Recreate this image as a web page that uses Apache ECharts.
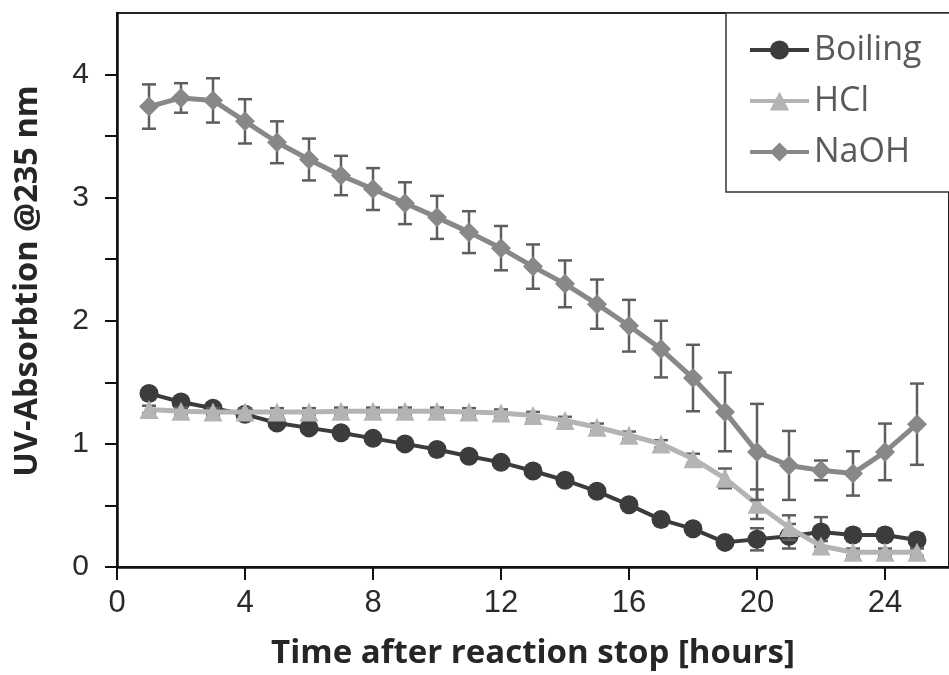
<!DOCTYPE html>
<html>
<head>
<meta charset="utf-8">
<script src="https://cdn.jsdelivr.net/npm/echarts@6/dist/echarts.min.js"></script>
<style>
html,body{margin:0;padding:0;background:#fff;}
#chart{width:949px;height:675px;}
</style>
</head>
<body>
<div id="chart"></div>
<script>
const hours = [1,2,3,4,5,6,7,8,9,10,11,12,13,14,15,16,17,18,19,20,21,22,23,24,25];
const boiling = [1.41,1.34,1.29,1.24,1.17,1.13,1.09,1.045,1.00,0.955,0.90,0.85,0.78,0.705,0.615,0.505,0.385,0.31,0.20,0.225,0.25,0.285,0.26,0.26,0.22];
const boilingErr = [0.03,0.03,0.03,0.03,0.03,0.03,0.03,0.03,0.03,0.03,0.03,0.03,0.03,0.03,0.03,0.03,0.03,0.03,0.04,0.09,0.10,0.12,0.05,0.05,0.05];
const hcl = [1.28,1.265,1.26,1.26,1.26,1.26,1.265,1.265,1.265,1.265,1.26,1.25,1.23,1.19,1.135,1.07,1.0,0.88,0.72,0.51,0.32,0.17,0.12,0.12,0.12];
const hclErr = [0.03,0.03,0.03,0.03,0.03,0.03,0.03,0.03,0.03,0.03,0.03,0.03,0.03,0.03,0.03,0.03,0.03,0.04,0.08,0.12,0.10,0.04,0.03,0.03,0.03];
const naoh = [3.74,3.81,3.79,3.62,3.45,3.31,3.18,3.07,2.955,2.84,2.72,2.59,2.44,2.30,2.135,1.96,1.77,1.535,1.26,0.935,0.825,0.785,0.76,0.935,1.16];
const naohErr = [0.18,0.12,0.18,0.18,0.17,0.17,0.16,0.17,0.17,0.175,0.17,0.18,0.18,0.19,0.20,0.21,0.23,0.27,0.32,0.39,0.28,0.08,0.18,0.23,0.33];
const xTicks = [0,4,8,12,16,20,24];
const yTicks = [0,0.5,1,1.5,2,2.5,3,3.5,4];
const yLabels = [0,1,2,3,4];
const seriesNames = ['Boiling','HCl','NaOH'];

const chart = echarts.init(document.getElementById('chart'), null, {renderer:'canvas'});

function errData(vals, errs){
  return hours.map((t,i)=>[t, vals[i]-errs[i], vals[i]+errs[i]]);
}
function errSeries(name, vals, errs, z){
  return {
    type:'custom', name:name, z:z, silent:true,
    encode:{x:0, y:[1,2]},
    data: errData(vals, errs),
    renderItem: function(params, api){
      const x = api.value(0);
      const top = api.coord([x, api.value(2)]);
      const bot = api.coord([x, api.value(1)]);
      const w = 7;
      const st = {stroke:'#5e5e5e', lineWidth:2.5};
      return {type:'group', children:[
        {type:'line', shape:{x1:top[0],y1:top[1],x2:bot[0],y2:bot[1]}, style:st},
        {type:'line', shape:{x1:top[0]-w,y1:top[1],x2:top[0]+w,y2:top[1]}, style:st},
        {type:'line', shape:{x1:bot[0]-w,y1:bot[1],x2:bot[0]+w,y2:bot[1]}, style:st}
      ]};
    }
  };
}
function lineSeries(name, vals, color, symbol, size, width, z){
  return {
    type:'line', name:name, z:z,
    data: hours.map((t,i)=>[t, vals[i]]),
    symbol: symbol, symbolSize: size,
    itemStyle:{color:color, borderWidth:0},
    lineStyle:{color:color, width:width},
    emphasis:{disabled:true},
    animation:false
  };
}

const option = {
  animation:false,
  backgroundColor:'#fff',
  grid:{left:117, top:13, right:-14, bottom:106.5, show:true, borderColor:'#222', borderWidth:2, backgroundColor:'transparent'},
  legend:{
    data: seriesNames,
    orient:'vertical',
    left:726, top:13,
    padding:[20,60,23,22],
    itemGap:17,
    itemWidth:59, itemHeight:24,
    lineStyle:{width:4},
    backgroundColor:'#fff',
    borderColor:'#333', borderWidth:1.5,
    textStyle:{fontFamily:'Open Sans', fontSize:34, lineHeight:34, color:'#5a5a5a'},
    z:20
  },
  xAxis:{
    type:'value', min:0, max:26, interval:4,
    name:'Time after reaction stop [hours]',
    nameLocation:'middle', nameGap:70,
    nameTextStyle:{fontFamily:'Open Sans', fontWeight:'bold', fontSize:33, color:'#262626'},
    axisLine:{show:true, onZero:false, lineStyle:{color:'#111', width:2.5}},
    axisTick:{show:true, inside:false, length:13, customValues:xTicks, lineStyle:{color:'#111', width:2}},
    axisLabel:{customValues:xTicks, margin:21, fontFamily:'Liberation Sans', fontSize:31, color:'#2a2a2a'},
    splitLine:{show:false}
  },
  yAxis:{
    type:'value', min:0, max:4.5, interval:0.5,
    name:'UV-Absorbtion @235 nm',
    nameLocation:'middle', nameGap:73, nameRotate:90,
    nameTextStyle:{fontFamily:'Open Sans', fontWeight:'bold', fontSize:32.5, color:'#262626', padding:[0,0,0,18]},
    axisLine:{show:true, onZero:false, lineStyle:{color:'#111', width:2.5}},
    axisTick:{show:true, inside:false, length:12, customValues:yTicks, lineStyle:{color:'#111', width:2}},
    axisLabel:{customValues:yLabels, margin:28, fontFamily:'Liberation Sans', fontSize:30, color:'#2a2a2a'},
    splitLine:{show:false}
  },
  series:[
    errSeries('errBoiling', boiling, boilingErr, 1),
    lineSeries('Boiling', boiling, '#3c3c3c', 'circle', 19, 4, 2),
    errSeries('errHCl', hcl, hclErr, 3),
    lineSeries('HCl', hcl, '#b4b4b4', 'triangle', 19, 5, 4),
    errSeries('errNaOH', naoh, naohErr, 5),
    lineSeries('NaOH', naoh, '#888888', 'diamond', 20, 5, 6)
  ]
};
chart.setOption(option);
</script>
</body>
</html>
